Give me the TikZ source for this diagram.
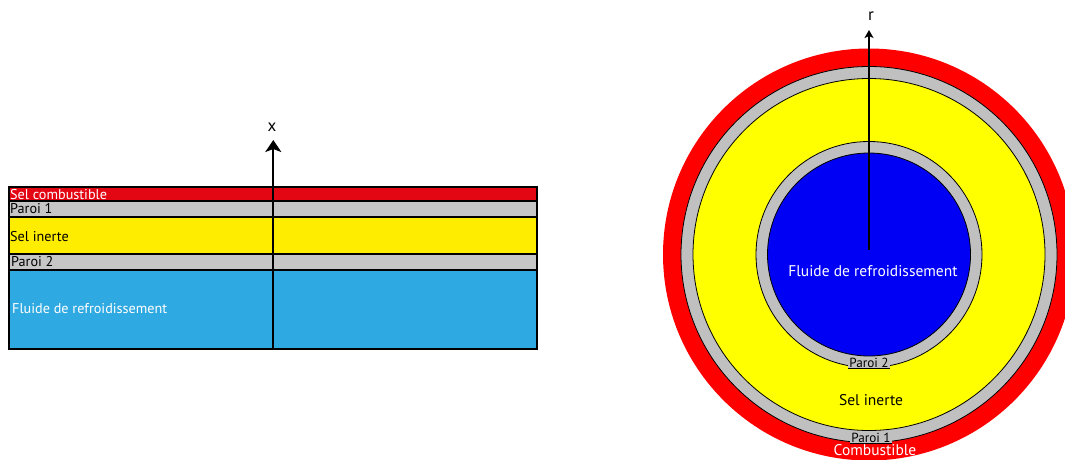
\documentclass[tikz,border=0pt]{standalone}
\usepackage{fontspec}
\setmainfont{PT Sans}
\usetikzlibrary{arrows.meta}
\definecolor{lred}{HTML}{E30613}
\definecolor{lgray}{HTML}{C6C6C6}
\definecolor{lyellow}{HTML}{FFED00}
\definecolor{lblue}{HTML}{2FA9E1}
\definecolor{rred}{HTML}{FF0000}
\definecolor{rgray}{HTML}{C0C0C0}
\definecolor{ryellow}{HTML}{FFFF00}
\definecolor{rblue}{HTML}{0000F5}
\tikzset{
  layer/.style={draw=black,line width=2pt},
  ring/.style={draw=black,line width=0.8pt},
  llab/.style={anchor=west,inner sep=0pt,font=\fontsize{14.2}{14.2}\selectfont},
  rlab/.style={inner sep=0pt,font=\fontsize{15.5}{15.5}\selectfont},
  plab/.style={inner sep=1pt,fill=rgray,font=\fontsize{13.2}{13.2}\selectfont,
    append after command={(\tikzlastnode.south west) edge[line width=0.8pt] (\tikzlastnode.south east)}},
  axis/.style={line width=2pt},
}
\begin{document}
\begin{tikzpicture}[x=1pt,y=-1pt]
\useasboundingbox (0,0) rectangle (1065,460);
% ---- left: plane layers
\draw[layer,fill=lblue] (8.5,269.5) rectangle (536.5,348.5);
\draw[layer,fill=lgray] (8.5,253.5) rectangle (536.5,269.5);
\draw[layer,fill=lyellow] (8.5,216.5) rectangle (536.5,253.5);
\draw[layer,fill=lgray] (8.5,200.5) rectangle (536.5,216.5);
\draw[layer,fill=lred] (8.5,187) rectangle (536.5,200.5);
\node[llab,text=white] (sc) at (10,194.5) {Sel combustible};
\node[llab] (p1l) at (10,209) {Paroi 1};
\node[llab] (sil) at (10,237) {Sel inerte};
\node[llab] (p2l) at (11,262) {Paroi 2};
\node[llab,text=white] (fl) at (12,309) {Fluide de refroidissement};
\coordinate (xb) at (273.3,348.5);
\coordinate (xt) at (273.3,140);
\draw[axis,-{Stealth[length=12pt,width=16pt,inset=3pt]}] (xb) -- (xt);
\node[font=\fontsize{17}{17}\selectfont,inner sep=0pt] (xlab) at (272,127) {x};
% ---- right: cylinder
\coordinate (c) at (869,254.5);
\fill[rred] (c) circle[radius=206];
\draw[ring,fill=rgray] (c) circle[radius=188];
\draw[ring,fill=ryellow] (c) circle[radius=176];
\draw[ring,fill=rgray] (c) circle[radius=113];
\draw[ring,fill=rblue] (c) circle[radius=101.5];
\coordinate (rb) at (869,250);
\coordinate (rt) at (869,30);
\draw[axis,-{Stealth[length=8pt,width=9pt,inset=2pt]}] (rb) -- (rt);
\node[font=\fontsize{17}{17}\selectfont,inner sep=0pt] (rlab) at (871,16) {r};
\node[rlab,text=white] (fr) at (873,271) {Fluide de refroidissement};
\node[plab] (p2r) at (869,362.5) {Paroi 2};
\node[rlab] (sir) at (871,400) {Sel inerte};
\node[plab] (p1r) at (871,437.5) {Paroi 1};
\node[rlab,text=white] (cb) at (875,450.5) {Combustible};
\end{tikzpicture}
\end{document}
